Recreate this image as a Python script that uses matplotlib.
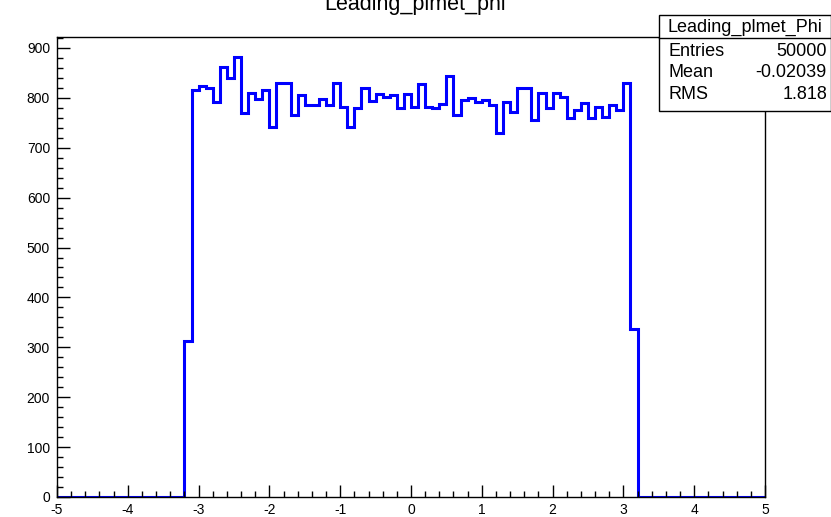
import numpy as np
import matplotlib
matplotlib.use('Agg')
import matplotlib.pyplot as plt
from matplotlib.ticker import MultipleLocator

plt.rcParams['font.family'] = ['Liberation Sans', 'DejaVu Sans']
plt.rcParams['axes.unicode_minus'] = False

#%% datos (histograma de 100 bins entre -5 y 5)
x_min, x_max, n_bins = -5, 5, 100
# bins no nulos: desde -3.2 hasta 3.2
cuentas_centro = [313,
                  816, 823, 820, 792, 862, 839, 881, 770, 809, 798,
                  815, 741, 830, 830, 766, 806, 786, 786, 797, 786,
                  829, 782, 741, 780, 819, 794, 807, 802, 806, 780,
                  808, 782, 827, 782, 779, 787, 844, 766, 796, 799,
                  792, 796, 786, 729, 792, 772, 819, 819, 756, 809,
                  779, 809, 802, 759, 776, 790, 759, 782, 762, 786,
                  776, 830,
                  336]
cuentas = [0]*18 + cuentas_centro + [0]*18
titulo = 'Leading_plmet_phi'
stats_nombre = 'Leading_plmet_Phi'
stats = [('Entries', '50000'), ('Mean', '-0.02039'), ('RMS', '1.818')]

#%% figura
W, H = 831, 517
fig = plt.figure(figsize=(W/100, H/100), dpi=100)
ax = fig.add_axes([57/W, (H-497)/H, 708/W, (497-37)/H])

edges = np.linspace(x_min, x_max, n_bins+1)
ax.stairs(cuentas, edges, color=(0, 0, 1), lw=2.2)

ax.set_xlim(x_min, x_max)
ax.set_ylim(0, 922)
ax.xaxis.set_major_locator(MultipleLocator(1))
ax.xaxis.set_minor_locator(MultipleLocator(0.2))
ax.yaxis.set_major_locator(MultipleLocator(100))
ax.yaxis.set_minor_locator(MultipleLocator(20))
ax.tick_params(which='both', direction='in', top=False, right=False,
               labelsize=10, width=1, color='k')
ax.tick_params(which='major', length=9)
ax.tick_params(which='minor', length=4.5)
ax.tick_params(axis='x', pad=4)
ax.tick_params(axis='y', pad=5)
for s in ax.spines.values():
    s.set_linewidth(1)

fig.text(415/W, 1-10/H, titulo, ha='center', va='baseline', fontsize=15.5)

# caja de estadisticas
bx0, by0, bx1, by1 = 659/W, 1-111/H, 830.5/W, 1-15/H
fig.patches.append(plt.Rectangle((bx0, by0), bx1-bx0, by1-by0, transform=fig.transFigure,
                                 facecolor='white', edgecolor='k', lw=1, zorder=5))
fig.lines.append(plt.Line2D([bx0, bx1], [1-38/H, 1-38/H], transform=fig.transFigure,
                            color='k', lw=1, zorder=6))
fig.text((bx0+bx1)/2, 1-27/H, stats_nombre, ha='center', va='center', fontsize=13, zorder=7)
for i, (k, v) in enumerate(stats):
    y = 1-(51+21.5*i)/H
    fig.text(668/W, y, k, ha='left', va='center', fontsize=13, zorder=7)
    fig.text(827/W, y, v, ha='right', va='center', fontsize=13, zorder=7)

fig.savefig('out.png', dpi=100)
